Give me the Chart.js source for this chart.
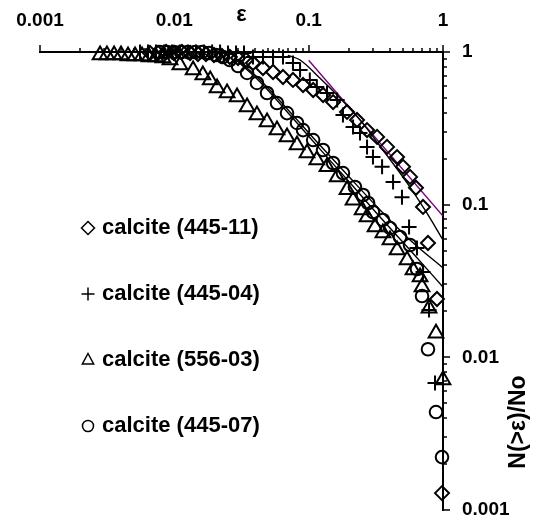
<!DOCTYPE html>
<html>
<head>
<meta charset="utf-8">
<script src="https://cdn.jsdelivr.net/npm/chart.js"></script>
<style>
  html, body { margin: 0; padding: 0; background: #fff; }
  canvas { display: block; }
</style>
</head>
<body>
<canvas id="chart" width="534" height="522"></canvas>
<script>
// series names, in legend order
const seriesLabels = ['calcite (445-11)', 'calcite (445-04)', 'calcite (556-03)', 'calcite (445-07)'];
const xTickLabels = ['0.001', '0.01', '0.1', '1'];
const yTickLabels = ['0.001', '0.01', '0.1', '1'];
const xTitle = 'ε';
const yTitle = 'N(>ε)/No';

// calcite (445-11), diamonds
const eps44511 = [0.00659, 0.00756, 0.00867, 0.00994, 0.0114, 0.0131, 0.0150, 0.0172, 0.0197, 0.0226, 0.0259, 0.0298, 0.0342, 0.0385, 0.0457, 0.0543, 0.0644, 0.0764, 0.0908, 0.108, 0.128, 0.152, 0.193, 0.229, 0.272, 0.323, 0.383, 0.455, 0.504, 0.568, 0.629, 0.710, 0.773, 0.902, 0.983];
const n44511 = [0.985, 0.985, 1.0, 0.985, 1.0, 0.985, 0.970, 0.970, 0.956, 0.941, 0.927, 0.913, 0.886, 0.847, 0.786, 0.740, 0.686, 0.656, 0.608, 0.564, 0.523, 0.470, 0.405, 0.359, 0.308, 0.278, 0.239, 0.205, 0.177, 0.152, 0.129, 0.0966, 0.0561, 0.0241, 0.00129];

// calcite (445-04), plus
const eps44504 = [0.00555, 0.00637, 0.00730, 0.00838, 0.00961, 0.0110, 0.0126, 0.0145, 0.0166, 0.0191, 0.0219, 0.0251, 0.0288, 0.0330, 0.0385, 0.0457, 0.0543, 0.0644, 0.0764, 0.0863, 0.102, 0.115, 0.137, 0.163, 0.180, 0.214, 0.241, 0.272, 0.301, 0.352, 0.425, 0.495, 0.559, 0.640, 0.710, 0.787, 0.872];
const n44504 = [1, 1, 1, 1, 1, 1, 1, 1, 1, 1, 1, 0.985, 0.985, 0.985, 0.927, 0.927, 0.927, 0.927, 0.847, 0.762, 0.656, 0.590, 0.539, 0.485, 0.387, 0.323, 0.295, 0.239, 0.205, 0.177, 0.141, 0.112, 0.0714, 0.0520, 0.0362, 0.0204, 0.00679];

// calcite (556-03), triangles
const eps55603 = [0.00280, 0.00315, 0.00356, 0.00401, 0.00452, 0.00510, 0.00575, 0.00648, 0.00730, 0.00823, 0.00929, 0.0110, 0.0138, 0.0163, 0.0185, 0.0208, 0.0247, 0.0293, 0.0348, 0.0412, 0.0490, 0.0581, 0.0690, 0.0819, 0.0972, 0.115, 0.137, 0.163, 0.193, 0.214, 0.250, 0.272, 0.312, 0.357, 0.403, 0.455, 0.540, 0.598, 0.675, 0.698, 0.787, 0.887, 1.0];
const n55603 = [0.956, 0.956, 0.956, 0.956, 0.941, 0.941, 0.941, 0.927, 0.927, 0.913, 0.886, 0.822, 0.762, 0.707, 0.656, 0.581, 0.539, 0.507, 0.436, 0.387, 0.348, 0.308, 0.278, 0.246, 0.218, 0.196, 0.177, 0.152, 0.125, 0.107, 0.0923, 0.0830, 0.0714, 0.0652, 0.0587, 0.0505, 0.0434, 0.0373, 0.0336, 0.0289, 0.0210, 0.0144, 0.0071];

// calcite (445-07), circles
const eps44507 = [0.00781, 0.00882, 0.00994, 0.0112, 0.0126, 0.0143, 0.0161, 0.0181, 0.0204, 0.0230, 0.0259, 0.0298, 0.0348, 0.0412, 0.0490, 0.0581, 0.0690, 0.0819, 0.0908, 0.108, 0.128, 0.152, 0.180, 0.221, 0.254, 0.277, 0.301, 0.357, 0.403, 0.479, 0.568, 0.640, 0.698, 0.773, 0.887, 0.983];
const n44507 = [1, 1, 1, 1, 1, 1, 1, 0.985, 0.956, 0.927, 0.886, 0.810, 0.729, 0.627, 0.539, 0.463, 0.398, 0.343, 0.308, 0.265, 0.228, 0.1875, 0.161, 0.1305, 0.1157, 0.1025, 0.0895, 0.0794, 0.0704, 0.0614, 0.0544, 0.0379, 0.0252, 0.0113, 0.00438, 0.00222];

// fitted curves
const fitEpsA = [0.07, 0.0863, 0.121, 0.171, 0.241, 0.357, 0.540, 0.734, 1.0];
const fitNA = [0.95, 0.886, 0.676, 0.500, 0.359, 0.228, 0.139, 0.0923, 0.0587];
const fitEpsB = [0.0283, 0.0435, 0.0726, 0.121, 0.203, 0.340, 0.568, 1.0];
const fitNB = [0.913, 0.656, 0.405, 0.246, 0.150, 0.0923, 0.0587, 0.0385];
const fitNC = [0.900, 0.636, 0.387, 0.232, 0.139, 0.0830, 0.0505, 0.0289];
const powerEps = [0.1, 1.0];
const powerN = [0.883, 0.0843];

function toPoints(xs, ys) {
    return xs.map((x, i) => ({x: x, y: ys[i]}));
}

function marker(label, xs, ys, style, radius) {
    return {
        label: label,
        data: toPoints(xs, ys),
        pointStyle: style,
        pointRadius: radius,
        pointHoverRadius: radius,
        pointBorderWidth: 2,
        borderColor: '#000',
        backgroundColor: 'rgba(0,0,0,0)',
        showLine: false,
        clip: false
    };
}

function curve(xs, ys, color) {
    return {
        label: '',
        data: toPoints(xs, ys),
        showLine: true,
        pointRadius: 0,
        borderColor: color,
        borderWidth: 1.4,
        cubicInterpolationMode: 'monotone',
        fill: false
    };
}

function decadeLabel(labels) {
    return function (value) {
        let e = Math.log10(value);
        let r = Math.round(e);
        if (Math.abs(e - r) > 1e-6) return '';
        return labels[r + 3];
    };
}

const styles = ['rectRot', 'cross', 'triangle', 'circle'];

function drawMark(ctx, style, x, y, r) {
    ctx.beginPath();
    if (style === 'rectRot') {
        ctx.moveTo(x, y - r); ctx.lineTo(x + r, y); ctx.lineTo(x, y + r); ctx.lineTo(x - r, y); ctx.closePath();
    } else if (style === 'cross') {
        ctx.moveTo(x - r, y); ctx.lineTo(x + r, y); ctx.moveTo(x, y - r); ctx.lineTo(x, y + r);
    } else if (style === 'triangle') {
        ctx.moveTo(x, y - r); ctx.lineTo(x + r * 0.87, y + r * 0.6); ctx.lineTo(x - r * 0.87, y + r * 0.6); ctx.closePath();
    } else {
        ctx.arc(x, y, r * 0.85, 0, Math.PI * 2);
    }
    ctx.stroke();
}

const frame = {
    id: 'frame',
    afterDraw: function (chart) {
        let ctx = chart.ctx, a = chart.chartArea;
        let xs = chart.scales.x, ys = chart.scales.y;
        ctx.save();
        ctx.strokeStyle = '#000';
        ctx.lineWidth = 1.5;
        for (let e = -3; e <= 0; e++) {
            for (let m = 1; m <= 9; m++) {
                let v = m * Math.pow(10, e);
                if (v > 1.0001) break;
                let len = m === 1 ? 7 : 4;
                let px = Math.round(xs.getPixelForValue(v));
                ctx.beginPath(); ctx.moveTo(px, a.top); ctx.lineTo(px, a.top - len); ctx.stroke();
                let py = Math.round(ys.getPixelForValue(v));
                ctx.beginPath(); ctx.moveTo(a.right, py); ctx.lineTo(a.right + len, py); ctx.stroke();
            }
        }

        // axis titles
        ctx.fillStyle = '#000';
        ctx.textAlign = 'center';
        ctx.textBaseline = 'middle';
        ctx.font = 'bold 22px "Liberation Sans", Arial, sans-serif';
        ctx.fillText(xTitle, (a.left + a.right) / 2, 15);
        ctx.save();
        ctx.translate(519, 422);
        ctx.rotate(-Math.PI / 2);
        ctx.font = 'bold 23px "Liberation Sans", Arial, sans-serif';
        ctx.fillText(yTitle, 0, 0);
        ctx.restore();

        // legend inside the plot
        ctx.font = 'bold 22px "Liberation Sans", Arial, sans-serif';
        ctx.textAlign = 'left';
        ctx.lineWidth = 1.5;
        seriesLabels.forEach((label, i) => {
            let y = 228 + i * 66;
            drawMark(ctx, styles[i], 88, y, 6.5);
            ctx.fillText(label, 102, y);
        });
        ctx.restore();
    }
};

const tickFont = {family: '"Liberation Sans", Arial, sans-serif', size: 19, weight: 'bold'};

new Chart(document.getElementById('chart'), {
    type: 'scatter',
    data: {
        datasets: [
            marker(seriesLabels[0], eps44511, n44511, 'rectRot', 7),
            marker(seriesLabels[1], eps44504, n44504, 'cross', 7.5),
            marker(seriesLabels[2], eps55603, n55603, 'triangle', 8.5),
            marker(seriesLabels[3], eps44507, n44507, 'circle', 6.3),
            curve(fitEpsA, fitNA, '#000'),
            curve(fitEpsB, fitNB, '#000'),
            curve(fitEpsB, fitNC, '#000'),
            curve(powerEps, powerN, '#800080')
        ]
    },
    options: {
        responsive: false,
        animation: false,
        layout: {padding: {left: 40, right: 0, top: 0, bottom: 12}},
        plugins: {legend: {display: false}, tooltip: {enabled: false}},
        scales: {
            x: {
                type: 'logarithmic',
                position: 'top',
                min: 0.001,
                max: 1,
                afterFit: function (s) { s.height = 52; s.paddingLeft = 0; s.paddingRight = 0; },
                grid: {display: false, drawTicks: false},
                border: {display: true, color: '#000', width: 2},
                ticks: {
                    autoSkip: false, maxRotation: 0, minRotation: 0, padding: 20,
                    color: '#000', font: tickFont, callback: decadeLabel(xTickLabels)
                }
            },
            y: {
                type: 'logarithmic',
                position: 'right',
                min: 0.001,
                max: 1,
                afterFit: function (s) { s.width = 91; s.paddingTop = 0; s.paddingBottom = 0; },
                grid: {display: false, drawTicks: false},
                border: {display: true, color: '#000', width: 2},
                ticks: {
                    autoSkip: false, padding: 19,
                    color: '#000', font: tickFont, callback: decadeLabel(yTickLabels)
                }
            }
        }
    },
    plugins: [frame]
});
</script>
</body>
</html>
